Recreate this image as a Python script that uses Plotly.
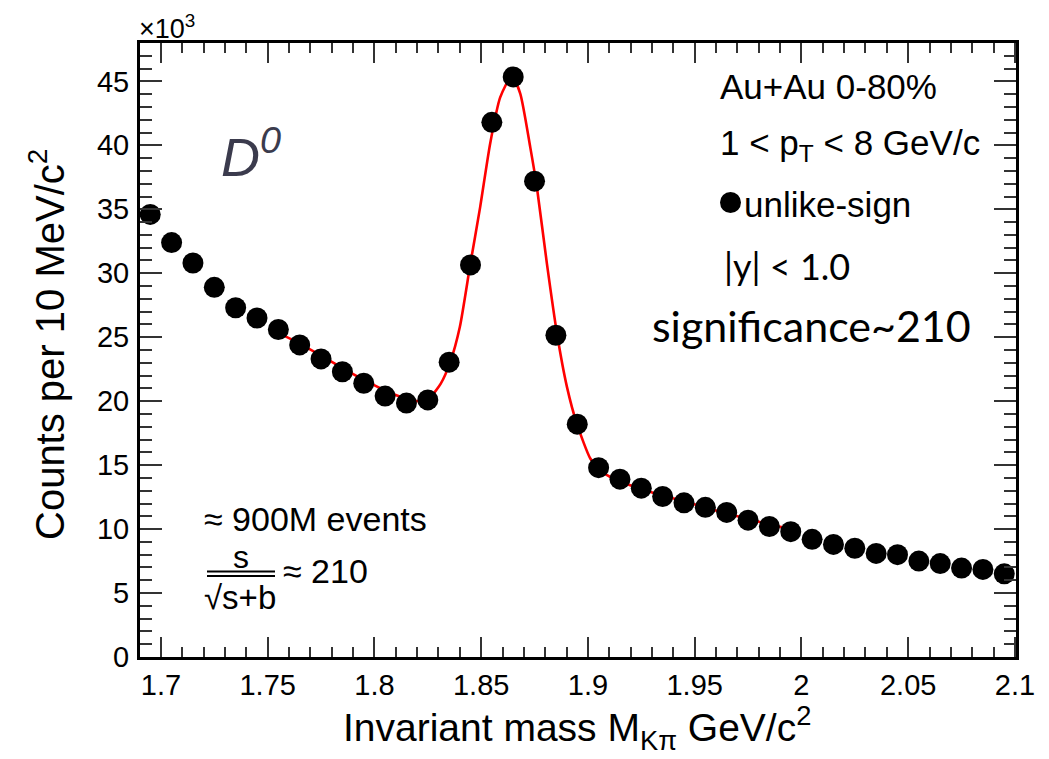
import plotly.graph_objects as go

# ---------------- data (counts in units of 10^3) ----------------
mass = [1.695, 1.705, 1.715, 1.725, 1.735, 1.745, 1.755, 1.765, 1.775, 1.785,
        1.795, 1.805, 1.815, 1.825, 1.835, 1.845, 1.855, 1.865, 1.875, 1.885,
        1.895, 1.905, 1.915, 1.925, 1.935, 1.945, 1.955, 1.965, 1.975, 1.985,
        1.995, 2.005, 2.015, 2.025, 2.035, 2.045, 2.055, 2.065, 2.075, 2.085,
        2.095]
counts = [34.6, 32.4, 30.8, 28.9, 27.3, 26.5, 25.6, 24.4, 23.3, 22.3,
          21.4, 20.4, 19.85, 20.1, 23.05, 30.65, 41.8, 45.35, 37.2, 25.15,
          18.2, 14.8, 13.9, 13.2, 12.55, 12.05, 11.7, 11.3, 10.7, 10.2,
          9.8, 9.2, 8.8, 8.5, 8.1, 8.0, 7.5, 7.3, 6.95, 6.85,
          6.5]

fit_mass = [1.752, 1.756, 1.765, 1.775, 1.7855, 1.7955, 1.806, 1.815, 1.8207,
            1.826, 1.831, 1.8355, 1.840, 1.8448, 1.8495, 1.8542, 1.8589, 1.8644,
            1.8683, 1.873, 1.8761, 1.8808, 1.8855, 1.8902, 1.8948, 1.9011, 1.9058,
            1.9105, 1.9198, 1.9308, 1.9402, 1.9558, 1.9714, 1.987, 1.9992]
fit_counts = [25.5, 25.24, 24.5, 23.56, 22.55, 21.62, 20.76, 20.19, 20.0,
              20.31, 21.35, 23.05, 25.8, 30.6, 35.15, 40.13, 43.75, 45.45,
              44.04, 39.84, 36.72, 30.73, 25.29, 21.1, 18.24, 15.52, 14.59,
              14.07, 13.43, 12.83, 12.4, 11.64, 10.94, 10.29, 9.85]

y_ticks = [0, 5, 10, 15, 20, 25, 30, 35, 40, 45]
x_ticks = [1.7, 1.75, 1.8, 1.85, 1.9, 1.95, 2.0, 2.05, 2.1]
x_ticktext = ["1.7", "1.75", "1.8", "1.85", "1.9", "1.95", "2", "2.05", "2.1"]

# ---------------- figure ----------------
# page has an 8px body margin; plot area on page spans x 140..1016, y 43..657
OFF = 8
W, H = 1049 - OFF, 759 - OFF
PL, PR, PT, PB = 140, 1016, 43, 657
L, T = PL - OFF, PT - OFF
R = W - (PR - OFF)
B = H - (PB - OFF)
PW, PH = PR - PL, PB - PT


def px(x):
    return (x - PL) / PW


def py(y):
    return (PB - y) / PH


fig = go.Figure()
fig.add_trace(go.Scatter(x=fit_mass, y=fit_counts, mode="lines",
                         line=dict(color="#ff0000", width=2.6, shape="spline", smoothing=0.6),
                         showlegend=False, hoverinfo="skip"))
fig.add_trace(go.Scatter(x=mass, y=counts, mode="markers",
                         marker=dict(color="black", size=21, line=dict(width=0)),
                         name="unlike-sign", showlegend=False))

FONT = "Liberation Sans, Arial, Helvetica, sans-serif"
axis_common = dict(showgrid=False, zeroline=False, showline=True, linecolor="black",
                   linewidth=3, mirror="ticks", ticks="inside", tickcolor="#333",
                   tickwidth=1.5, tickfont=dict(family=FONT, size=29, color="black"))

fig.update_xaxes(range=[1.6902, 2.1005], tickvals=x_ticks, ticktext=x_ticktext, ticklen=20,
                 minor=dict(dtick=0.01, tick0=1.7, ticklen=10, ticks="inside", tickcolor="#333", tickwidth=1.5),
                 ticklabelstandoff=0, **axis_common)
fig.update_yaxes(range=[0, 48], tickvals=y_ticks, ticklen=22,
                 minor=dict(dtick=1, tick0=0, ticklen=12, ticks="inside", tickcolor="#333", tickwidth=1.5),
                 ticklabelstandoff=2, **axis_common)

ann = []
# axis titles
ann.append(dict(text="Invariant mass M<sub>Kπ</sub> GeV/c<sup>2</sup>", x=px(577), y=py(728),
                xanchor="center", yanchor="middle", font=dict(family=FONT, size=39, color="black")))
ann.append(dict(text="Counts per 10 MeV/c<sup>2</sup>", x=px(47), y=py(345), textangle=-90,
                xanchor="center", yanchor="middle", font=dict(family=FONT, size=40, color="black")))
# x10^3
ann.append(dict(text="×10<sup>3</sup>", x=px(137), y=py(27), xanchor="left", yanchor="middle",
                font=dict(family=FONT, size=27, color="black")))
# D0
ann.append(dict(text="<i>D<sup>0</sup></i>", x=px(219), y=py(153), xanchor="left", yanchor="middle",
                font=dict(family=FONT, size=54, color="#3b3b4d")))
# right-hand labels
ann.append(dict(text="Au+Au 0-80%", x=px(718), y=py(86), xanchor="left", yanchor="middle",
                font=dict(family=FONT, size=35, color="black")))
ann.append(dict(text="1 < p<sub>T</sub> < 8 GeV/c", x=px(718), y=py(145), xanchor="left", yanchor="middle",
                font=dict(family=FONT, size=35, color="black")))
ann.append(dict(text="unlike-sign", x=px(742), y=py(204), xanchor="left", yanchor="middle",
                font=dict(family=FONT, size=35, color="black")))
ann.append(dict(text="|y| < 1.0", x=px(722), y=py(266), xanchor="left", yanchor="middle",
                font=dict(family="Lato, Carlito, sans-serif", size=36, color="black")))
ann.append(dict(text="significance~210", x=px(650), y=py(325), xanchor="left", yanchor="middle",
                font=dict(family="Lato, Carlito, sans-serif", size=43, color="black")))
# bottom-left labels
ann.append(dict(text="≈ 900M events", x=px(202), y=py(519), xanchor="left", yanchor="middle",
                font=dict(family=FONT, size=34, color="black")))
ann.append(dict(text="s", x=px(241), y=py(557), xanchor="center", yanchor="middle",
                font=dict(family=FONT, size=32, color="black")))
ann.append(dict(text="√s+b", x=px(240), y=py(597), xanchor="center", yanchor="middle",
                font=dict(family=FONT, size=33, color="black")))
ann.append(dict(text="≈ 210", x=px(281), y=py(571), xanchor="left", yanchor="middle",
                font=dict(family=FONT, size=34, color="black")))
for a in ann:
    a.update(xref="paper", yref="paper", showarrow=False)

shapes = [
    dict(type="line", xref="paper", yref="paper", x0=px(207), x1=px(275), y0=py(571.5), y1=py(571.5),
         line=dict(color="black", width=2)),
    dict(type="line", xref="paper", yref="paper", x0=px(207), x1=px(275), y0=py(576), y1=py(576),
         line=dict(color="black", width=2)),
    # legend bullet for the unlike-sign points
    dict(type="circle", xref="paper", yref="paper", x0=px(720), x1=px(741), y0=py(213), y1=py(192),
         fillcolor="black", line=dict(width=0)),
]

fig.update_layout(width=W, height=H, margin=dict(l=L, r=R, t=T, b=B),
                  plot_bgcolor="white", paper_bgcolor="white",
                  annotations=ann, shapes=shapes, showlegend=False)

fig.write_html("out.html")
